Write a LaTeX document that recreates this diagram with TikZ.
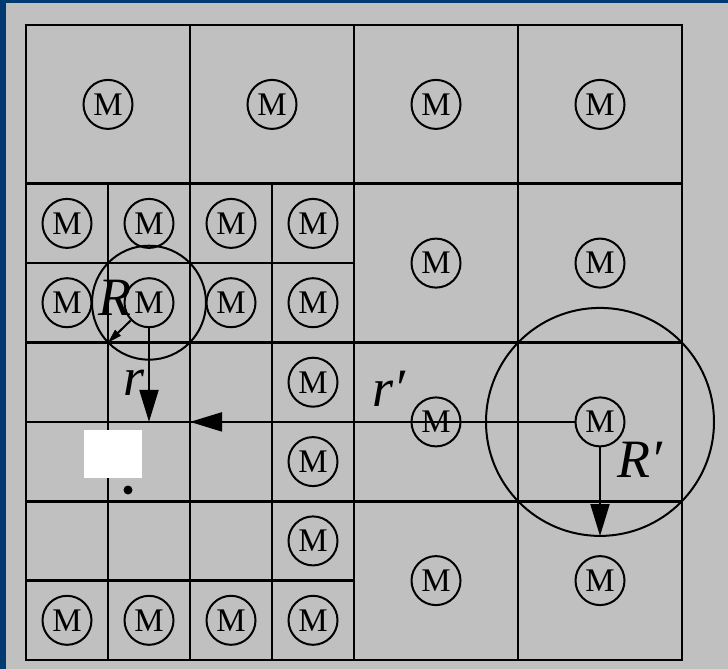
\documentclass[tikz,border=0pt]{standalone}
\usepackage{fontspec}
\setmainfont{Liberation Serif}
\usetikzlibrary{arrows.meta}
\definecolor{navy}{RGB}{0,58,112}
\definecolor{panel}{RGB}{192,192,192}
\begin{document}
\begin{tikzpicture}[x=1pt,y=-1pt,
  motor/.style={circle,draw,line width=2pt,minimum size=49pt,inner sep=0pt,font=\fontsize{33}{33}\selectfont},
  gridline/.style={line width=2.6pt},
  ring/.style={line width=2pt},
  lbl/.style={font=\fontsize{54}{54}\selectfont\itshape,inner sep=0pt},
  bigarrow/.style={line width=2pt,-{Triangle[length=32pt,width=19pt]}},
  smallarrow/.style={line width=2pt,-{Triangle[length=14pt,width=8pt]}}]
\fill[navy] (0,0) rectangle (728,669);
\fill[panel] (6,3) rectangle (728,669);
\useasboundingbox (0,0) rectangle (728,669);
% big grid
\draw[gridline] (26,25) rectangle (682,660);
\foreach \x in {190,354,518} \draw[gridline] (\x,25) -- (\x,660);
\foreach \y in {183.75,342.5,501.25} \draw[gridline] (26,\y) -- (682,\y);
% small grid (lower left block)
\foreach \x in {108,272} \draw[gridline] (\x,183.75) -- (\x,660);
\foreach \y in {263.1,421.9,580.6} \draw[gridline] (26,\y) -- (354,\y);
% big cell motors
\foreach \x [count=\i] in {108,272,436,600} \node[motor] (t\i) at (\x,104.4) {M};
\node[motor] (b32) at (436,263.1) {M};
\node[motor] (b42) at (600,263.1) {M};
\node[motor] (b33) at (436,421.9) {M};
\node[motor] (b43) at (600,421.9) {M};
\node[motor] (b34) at (436,580.6) {M};
\node[motor] (b44) at (600,580.6) {M};
% small cell motors
\foreach \x [count=\i] in {67,149,231,313} {
  \node[motor] (s\i a) at (\x,223.4) {M};
  \node[motor] (s\i b) at (\x,302.7) {M};
  \node[motor] (s\i f) at (\x,620.3) {M};
}
\node[motor] (s4c) at (313,382.2) {M};
\node[motor] (s4d) at (313,461.6) {M};
\node[motor] (s4e) at (313,540.9) {M};
% target box and point
\fill[white] (84,430) rectangle (142,478);
\fill[black] (128,490) circle[radius=4.5];
% neighbourhood circles
\draw[ring] (s2b.center) circle[radius=57];
\draw[ring] (b43.center) circle[radius=114];
% free ends
\coordinate (rend) at (149,421.9);
\coordinate (Rend) at (108,342.5);
\coordinate (rpend) at (190,421.9);
\coordinate (Rpend) at (600,536);
% arrows
\draw[bigarrow] (s2b) -- (rend);
\draw[smallarrow] (s2b) -- (Rend);
\draw[bigarrow] (b43) -- (rpend);
\draw[bigarrow] (b43) -- (Rpend);
% labels
\node[lbl] (lR) at (115,298) {R};
\node[lbl] (lr) at (134,383) {r};
\node[lbl] (lrp) at (389,389) {r′};
\node[lbl] (lRp) at (640,460) {R′};
\end{tikzpicture}
\end{document}
